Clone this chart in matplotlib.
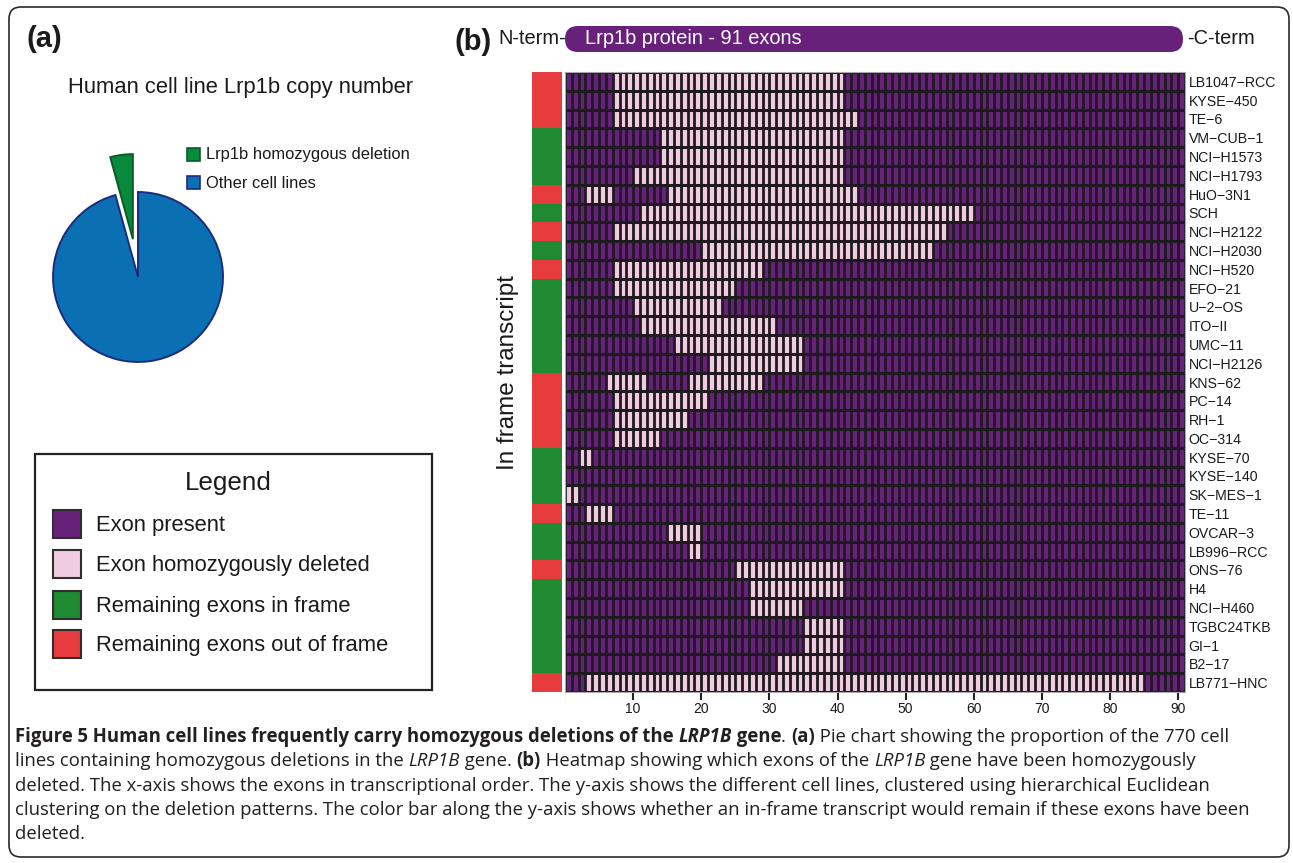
import matplotlib
matplotlib.use("Agg")
import matplotlib.pyplot as plt
import numpy as np
from matplotlib.colors import ListedColormap
from matplotlib.patches import Rectangle, FancyBboxPatch

plt.rcParams['font.family'] = ['Liberation Sans', 'DejaVu Sans']

# ---- data ----
cell_lines = ['LB1047-RCC', 'KYSE-450', 'TE-6', 'VM-CUB-1', 'NCI-H1573', 'NCI-H1793',
              'HuO-3N1', 'SCH', 'NCI-H2122', 'NCI-H2030', 'NCI-H520', 'EFO-21',
              'U-2-OS', 'ITO-II', 'UMC-11', 'NCI-H2126', 'KNS-62', 'PC-14', 'RH-1',
              'OC-314', 'KYSE-70', 'KYSE-140', 'SK-MES-1', 'TE-11', 'OVCAR-3',
              'LB996-RCC', 'ONS-76', 'H4', 'NCI-H460', 'TGBC24TKB', 'GI-1', 'B2-17',
              'LB771-HNC']
cell_lines = [c.replace('-', '\u2212') for c in cell_lines]
# deleted exon ranges (first, last), 1-based
deleted = [[(8, 41)], [(8, 41)], [(8, 43)], [(15, 41)], [(15, 41)], [(11, 41)],
           [(4, 7), (16, 43)], [(12, 60)], [(8, 56)], [(21, 54)], [(8, 29)],
           [(8, 25)], [(11, 23)], [(12, 31)], [(17, 35)], [(22, 35)],
           [(7, 12), (19, 29)], [(8, 21)], [(8, 18)], [(8, 14)], [(3, 4)], [],
           [(1, 2)], [(4, 7)], [(16, 20)], [(19, 20)], [(26, 41)], [(28, 41)],
           [(28, 35)], [(36, 41)], [(36, 41)], [(32, 41)], [(4, 85)]]
# 1 = remaining exons in frame, 0 = out of frame
in_frame = [0, 0, 0, 1, 1, 1, 0, 1, 0, 1, 0, 1, 1, 1, 1, 1, 0, 0, 0, 0, 1, 1, 1,
            0, 1, 1, 0, 1, 1, 1, 1, 1, 0]
n_exons = 91
n_total = 770
n_del = len(cell_lines)
exon_ticks = list(range(10, 91, 10))

legend_labels = ['Exon present', 'Exon homozygously deleted',
                 'Remaining exons in frame', 'Remaining exons out of frame']

purple = '#67217b'
pink = '#f1cbe0'
green = '#1f8a31'
red = '#e73c3e'
grid = '#1e1a20'
pie_green, pie_blue = '#088a3c', '#0b6fb4'
txt = '#1a1a1a'

W, H = 1293, 863
fig = plt.figure(figsize=(W / 100, H / 100), dpi=100)


def px_axes(x0, y0, x1, y1):
    return fig.add_axes([x0 / W, 1 - y1 / H, (x1 - x0) / W, (y1 - y0) / H])


bg = fig.add_axes([0, 0, 1, 1])
bg.set_xlim(0, W)
bg.set_ylim(H, 0)
bg.axis('off')

# outer frame
bg.add_patch(FancyBboxPatch((9, 7), 1280, 850, boxstyle='round,pad=0,rounding_size=12',
                            fill=False, ec='#2a2a2a', lw=1.2))

# ---- (a) pie ----
bg.text(27, 39, '(a)', fontsize=21, fontweight='bold', va='center', color=txt)
bg.text(240, 87, 'Human cell line Lrp1b copy number', fontsize=15.8, ha='center',
        va='center', color=txt)

pax = px_axes(138 - 130, 277 - 130, 138 + 130, 277 + 130)
wedges, _ = pax.pie([n_del, n_total - n_del], colors=[pie_green, pie_blue],
                    startangle=90, explode=[0.45, 0], radius=1)
wedges[0].set_edgecolor('#0c5a2a')
wedges[1].set_edgecolor('#1c2b7c')
for w in wedges:
    w.set_linewidth(1.4)
    w.set_clip_on(False)
pax.set_xlim(-1.53, 1.53)
pax.set_ylim(-1.53, 1.53)
pax.axis('off')

for (lab, fc, ec), yc in zip([('Lrp1b homozygous deletion', pie_green, '#0c5a2a'),
                              ('Other cell lines', pie_blue, '#1c2b7c')], [155, 183]):
    bg.add_patch(Rectangle((187, yc - 7), 13, 13, fc=fc, ec=ec, lw=1.2))
    bg.text(206, yc, lab, fontsize=11.9, va='center', color=txt)

# ---- legend box ----
bg.add_patch(Rectangle((35, 454), 397, 236, fill=False, ec='#222222', lw=1.6))
bg.text(228, 483, 'Legend', fontsize=18.7, ha='center', va='center', color=txt)
for lab, col, yc in zip(legend_labels, [purple, pink, green, red], [524, 564, 605, 644]):
    bg.add_patch(Rectangle((53, yc - 14), 28, 28, fc=col, ec='#2e2e2e', lw=1.5))
    bg.text(96, yc + 1, lab, fontsize=15.8, va='center', color=txt)

# ---- (b) heatmap ----
bg.text(454, 42, '(b)', fontsize=21, fontweight='bold', va='center', color=txt)
bg.add_patch(FancyBboxPatch((578, 39), 592, 0, boxstyle='round,pad=13',
                            fc=purple, ec='none'))
bg.text(585, 39, 'Lrp1b protein - 91 exons', fontsize=14.4, color='white', va='center')
bg.text(566, 39, 'N-term-', fontsize=14.4, ha='right', va='center', color=txt)
bg.text(1187, 39, '-C-term', fontsize=14.4, ha='left', va='center', color=txt)
bg.text(508, 372, 'In frame transcript', fontsize=17.5, rotation=90, ha='center',
        va='center', color=txt)

mat = np.zeros((len(cell_lines), n_exons))
for i, segs in enumerate(deleted):
    for s, e in segs:
        mat[i, s - 1:e] = 1

ax = px_axes(565, 72, 1185, 692)
ax.pcolormesh(np.arange(n_exons + 1), np.arange(len(cell_lines) + 1), mat,
              cmap=ListedColormap([purple, pink]), vmin=0, vmax=1)
ax.vlines(np.arange(n_exons + 1), 0, len(cell_lines), color=grid, lw=2.0)
ax.hlines(np.arange(len(cell_lines) + 1), 0, n_exons, color=grid, lw=2.2)
ax.set_xlim(0, n_exons)
ax.set_ylim(len(cell_lines), 0)
ax.set_xticks(exon_ticks)
ax.set_xticklabels([str(t) for t in exon_ticks])
ax.tick_params(axis='x', length=6, width=1.5, color='#222222', labelsize=10, pad=1.5,
               labelcolor=txt)
ax.set_yticks(np.arange(len(cell_lines)) + 0.5)
ax.set_yticklabels(cell_lines)
ax.yaxis.tick_right()
ax.tick_params(axis='y', length=0, labelsize=10.2, pad=2.5, labelcolor=txt)
for sp in ax.spines.values():
    sp.set_color('#aaaaaa')
    sp.set_linewidth(0.8)

cax = px_axes(532, 72, 562, 692)
cax.pcolormesh([0, 1], np.arange(len(cell_lines) + 1), np.array(in_frame)[:, None],
               cmap=ListedColormap([red, green]), vmin=0, vmax=1)
cax.set_ylim(len(cell_lines), 0)
cax.axis('off')

# ---- caption ----
cap_font = 'Open Sans'
renderer = fig.canvas.get_renderer()


def run_width(s, weight, style, size):
    a = bg.text(0, -100, s + '|', fontsize=size, family=cap_font, fontweight=weight,
                fontstyle=style)
    b = bg.text(0, -100, '|', fontsize=size, family=cap_font, fontweight=weight,
                fontstyle=style)
    w = a.get_window_extent(renderer).width - b.get_window_extent(renderer).width
    a.remove()
    b.remove()
    return w


N, B, I, BI = ('normal', 'normal'), ('bold', 'normal'), ('normal', 'italic'), ('bold', 'italic')
caption = [
    [('Figure 5 Human cell lines frequently carry homozygous deletions of the ', B),
     ('LRP1B', BI), (' gene', B), ('. ', N), ('(a)', B),
     (' Pie chart showing the proportion of the 770 cell', N)],
    [('lines containing homozygous deletions in the ', N), ('LRP1B', I), (' gene. ', N),
     ('(b)', B), (' Heatmap showing which exons of the ', N), ('LRP1B', I),
     (' gene have been homozygously', N)],
    [('deleted. The x-axis shows the exons in transcriptional order. The y-axis shows the '
      'different cell lines, clustered using hierarchical Euclidean', N)],
    [('clustering on the deletion patterns. The color bar along the y-axis shows whether an '
      'in-frame transcript would remain if these exons have been', N)],
    [('deleted.', N)],
]
# size the caption font so the fourth line spans the same width as the original
base = 12.0
w4 = sum(run_width(s, wt, st, base) for s, (wt, st) in caption[3])
cap_size = base * 1230 / w4

for k, line in enumerate(caption):
    x = 15
    y = 737 + k * 24.3
    for s, (wt, st) in line:
        bg.text(x, y, s, fontsize=cap_size, family=cap_font, fontweight=wt, fontstyle=st,
                va='center', color='#231f20')
        x += run_width(s, wt, st, cap_size)

fig.savefig('out.png', dpi=100)
